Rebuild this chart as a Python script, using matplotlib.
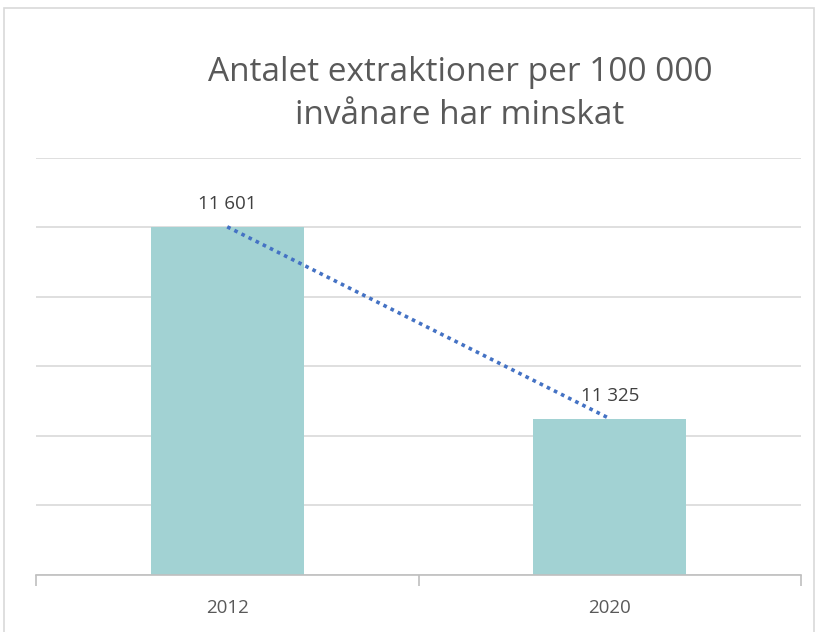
import matplotlib.pyplot as plt
from matplotlib.patches import Rectangle

# data
years = ['2012', '2020']
values = [11601, 11325]
labels = ['11 601', '11 325']
title = 'Antalet extraktioner per 100 000\ninvånare har minskat'

W, H = 819, 632
plt.rcParams['font.family'] = ['Open Sans', 'DejaVu Sans']

fig = plt.figure(figsize=(W / 100, H / 100), dpi=100)

# chart frame
fig.patches.append(Rectangle((4 / W, -0.01), 810 / W, 1 - 8 / H + 0.01,
                             transform=fig.transFigure, fill=False,
                             edgecolor='#d9d9d9', linewidth=1.2))

ax = fig.add_axes([36 / W, 1 - 575 / H, (801 - 36) / W, (575 - 158) / H])
x = list(range(len(years)))
ax.bar(x, values, width=0.4, color='#a2d2d3', zorder=2)
ax.plot(x, values, linestyle=(0, (1, 1.2)), color='#4472c4', linewidth=2.6, zorder=3)

for xi, v, lab in zip(x, values, labels):
    ax.text(xi, v + 20, lab, ha='center', va='bottom', fontsize=13.5, color='#404040')

ax.set_xlim(-0.5, 1.5)
ax.set_ylim(11100, 11700)
ax.set_yticks(range(11100, 11701, 100))
ax.yaxis.grid(True, color='#d9d9d9', linewidth=1.2, zorder=0)
ax.tick_params(axis='y', left=False, labelleft=False)

ax.set_xticks(x)
ax.set_xticklabels(years, fontsize=13.5, color='#595959')
ax.tick_params(axis='x', which='major', length=0, pad=17)
ax.set_xticks([-0.5, 0.5, 1.5], minor=True)
ax.tick_params(axis='x', which='minor', length=8, color='#bfbfbf', width=1.2)

for s in ['top', 'right', 'left']:
    ax.spines[s].set_visible(False)
ax.spines['bottom'].set_color('#bfbfbf')
ax.spines['bottom'].set_linewidth(1.2)

fig.text(460 / W, 1 - 94 / H, title, ha='center', va='center', fontsize=24,
         color='#595959', linespacing=1.38)

fig.savefig('out.png', dpi=100, facecolor='white')
